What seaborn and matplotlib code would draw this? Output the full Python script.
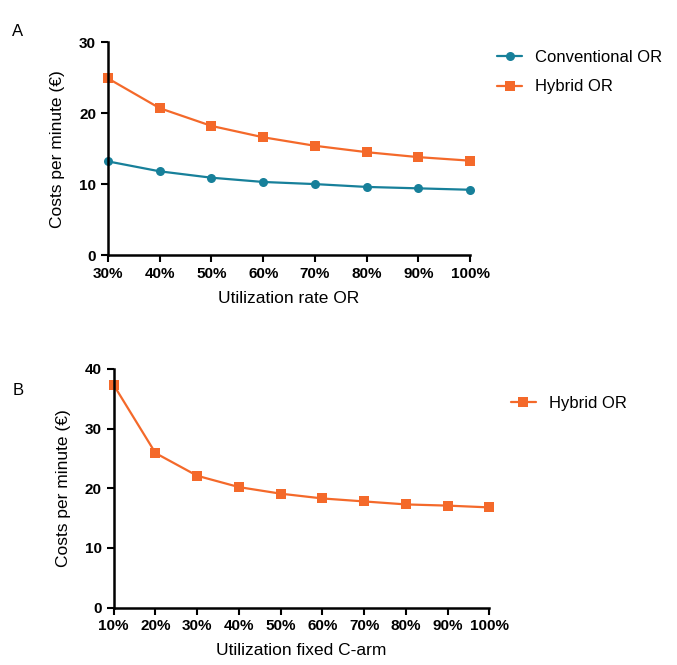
import numpy as np
import pandas as pd
import seaborn as sns
import matplotlib.pyplot as plt
from matplotlib.ticker import FuncFormatter

# Panel A: costs per minute vs. utilization rate of the OR
util_a = [30, 40, 50, 60, 70, 80, 90, 100]
conventional_a = [13.2, 11.8, 10.9, 10.3, 10.0, 9.6, 9.4, 9.2]
hybrid_a = [24.9, 20.7, 18.2, 16.6, 15.4, 14.5, 13.8, 13.3]

# Panel B: costs per minute vs. utilization of the fixed C-arm
util_b = [10, 20, 30, 40, 50, 60, 70, 80, 90, 100]
hybrid_b = [37.3, 25.9, 22.1, 20.2, 19.1, 18.3, 17.8, 17.3, 17.1, 16.8]

teal = "#17809A"
orange = "#F4692A"

df_a = pd.DataFrame({
    "util": util_a * 2,
    "cost": conventional_a + hybrid_a,
    "room": ["Conventional OR"] * len(util_a) + ["Hybrid OR"] * len(util_a),
})
df_b = pd.DataFrame({"util": util_b, "cost": hybrid_b, "room": ["Hybrid OR"] * len(util_b)})

sns.set_style("ticks")
plt.rcParams["font.family"] = ["Liberation Sans", "DejaVu Sans"]
plt.rcParams["text.color"] = "black"
plt.rcParams["axes.labelcolor"] = "black"
plt.rcParams["xtick.color"] = "black"
plt.rcParams["ytick.color"] = "black"

fig = plt.figure(figsize=(6.77, 6.65), dpi=100)
ax_a = fig.add_axes([0.1595, 0.6165, 0.535, 0.320])
ax_b = fig.add_axes([0.168, 0.0862, 0.555, 0.359])

pal = {"Conventional OR": teal, "Hybrid OR": orange}
mk = {"Conventional OR": "o", "Hybrid OR": "s"}

sns.lineplot(data=df_a, x="util", y="cost", hue="room", style="room", markers=mk,
             dashes=False, palette=pal, ax=ax_a, lw=1.6, markersize=6.5,
             markeredgewidth=0, clip_on=False)
sns.lineplot(data=df_b, x="util", y="cost", hue="room", style="room", markers=mk,
             dashes=False, palette=pal, ax=ax_b, lw=1.6, markersize=6.5,
             markeredgewidth=0, clip_on=False)

pct = FuncFormatter(lambda v, p: f"{int(v)}%")

def style_axis(ax, xticks, ylim, yticks, xlabel):
    ax.set_xlim(xticks[0], xticks[-1])
    ax.set_xticks(xticks)
    ax.xaxis.set_major_formatter(pct)
    ax.set_ylim(*ylim)
    ax.set_yticks(yticks)
    ax.set_xlabel(xlabel, fontsize=12.5, labelpad=7)
    ax.set_ylabel("Costs per minute (€)", fontsize=12.5, labelpad=10)
    for s in ["top", "right"]:
        ax.spines[s].set_visible(False)
    for s in ["left", "bottom"]:
        ax.spines[s].set_linewidth(1.8)
        ax.spines[s].set_color("black")
    ax.tick_params(width=1.5, length=5, direction="out", labelsize=11, color="black")
    for lab in ax.get_xticklabels() + ax.get_yticklabels():
        lab.set_fontweight("bold")

style_axis(ax_a, util_a, (0, 30), [0, 10, 20, 30], "Utilization rate OR")
style_axis(ax_b, util_b, (0, 40), [0, 10, 20, 30, 40], "Utilization fixed C-arm")

ax_a.legend(frameon=False, fontsize=12, loc="upper left",
            bbox_to_anchor=(0.712, 0.947), bbox_transform=fig.transFigure,
            handlelength=1.5, labelspacing=0.85, title=None)
ax_b.legend(frameon=False, fontsize=12, loc="upper left",
            bbox_to_anchor=(0.732, 0.427), bbox_transform=fig.transFigure,
            handlelength=1.5, title=None)

fig.text(0.018, 0.952, "A", fontsize=12, va="center")
fig.text(0.018, 0.413, "B", fontsize=12, va="center")

fig.savefig("out.png", dpi=100)
